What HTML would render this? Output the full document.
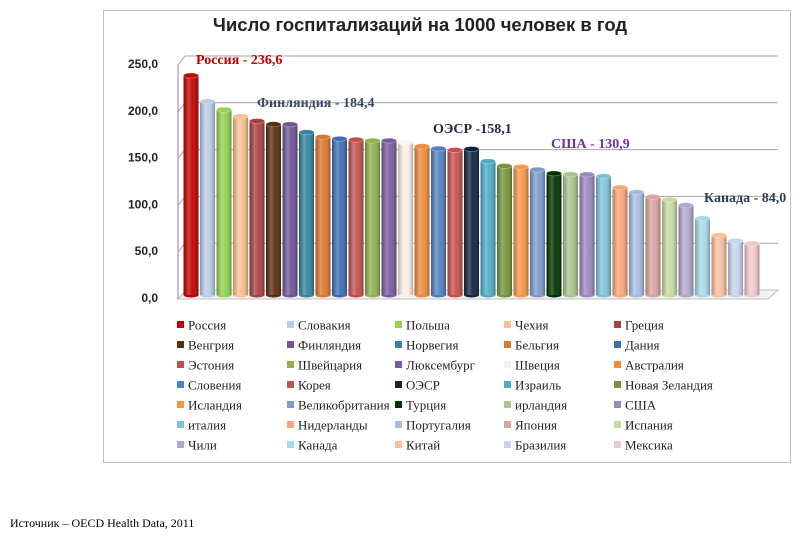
<!DOCTYPE html>
<html><head><meta charset="utf-8"><style>
body{margin:0;width:800px;height:542px;background:#fff;overflow:hidden;font-family:"Liberation Serif",serif}
</style></head><body>
<svg id="c" width="800" height="542" xmlns="http://www.w3.org/2000/svg">
<defs>
<linearGradient id="shade" x1="0" x2="1" y1="0" y2="0">
<stop offset="0" stop-color="#000" stop-opacity="0.25"/>
<stop offset="0.35" stop-color="#fff" stop-opacity="0.25"/>
<stop offset="0.6" stop-color="#fff" stop-opacity="0.05"/>
<stop offset="1" stop-color="#000" stop-opacity="0.3"/>
</linearGradient>
</defs>
<rect x="103.5" y="10.5" width="687" height="452" fill="#fff" stroke="#bfbfbf"/>
<text x="420" y="31" text-anchor="middle" font-family="Liberation Sans, sans-serif" font-weight="bold" font-size="18.5" fill="#222">Число госпитализаций на 1000 человек в год</text>
<g id="grid"></g><g id="bars"></g><g id="legend"></g>
<text x="196" y="64" font-weight="bold" font-size="14" fill="#c00000">Россия  - 236,6</text>
<text x="257" y="107" font-weight="bold" font-size="14" fill="#3b4a63">Финляндия  - 184,4</text>
<text x="433" y="133" font-weight="bold" font-size="14" fill="#1f2a44">ОЭСР  -158,1</text>
<text x="551" y="148" font-weight="bold" font-size="14" fill="#7030a0">США - 130,9</text>
<text x="704" y="202" font-weight="bold" font-size="14" fill="#2c3e5c">Канада - 84,0</text>
<text x="10" y="527" font-size="12" fill="#000">Источник – OECD Health Data, 2011</text>
</svg>
<script>
const categories=["Россия","Словакия","Польша","Чехия","Греция","Венгрия","Финляндия","Норвегия","Бельгия","Дания","Эстония","Швейцария","Люксембург","Швеция","Австралия","Словения","Корея","ОЭСР","Израиль","Новая Зеландия","Исландия","Великобритания","Турция","ирландия","США","италия","Нидерланды","Португалия","Япония","Испания","Чили","Канада","Китай","Бразилия","Мексика"];
const values=[236.6,209,200,193,188,184.6,184.4,176,171,169,168,167,167,165,161,158.5,157,158.1,145,140,139,136,132,131,130.9,129,117,112,107,104,98,84.0,66,60,57];
const colors=["#c00000","#b9cde5","#92d050","#fac090","#a8403e","#5a2d0c","#6f5596","#31859c","#d9782f","#3c6eb4","#c0504d","#8fb04a","#7a5a9e","#fdf0e6","#ef8a3a","#4f81bd","#c94f4c","#10243e","#4bacc6","#77933c","#f79646","#7c9bcc","#003300","#a9c58a","#9c87be","#7cc3d8","#fca678","#a6bde0","#dba3a2","#c6dca4","#b2a6cc","#a6dae8","#fbbfa0","#c6d4ec","#efc9c8"];
const ticks=[0,50,100,150,200,250];
const tickLabels=["0,0","50,0","100,0","150,0","200,0","250,0"];
const NS="http://www.w3.org/2000/svg";
const y0=297,pxPer=0.936,x0=191,step=16.5,bw=15;
const y=v=>y0-v*pxPer;
const x=i=>x0+i*step;
function mk(t,a,p){const e=document.createElementNS(NS,t);for(const k in a)e.setAttribute(k,a[k]);p.appendChild(e);return e;}
const grid=document.getElementById('grid'),bars=document.getElementById('bars'),leg=document.getElementById('legend');
const fl=mk('polygon',{points:"178,299 768,299 778,290 186,290",fill:"#f2f2f2",stroke:"#bfbfbf"},grid);


const ax=mk('line',{x1:178,y1:y(0)+2,x2:178,y2:y(250)+2,stroke:"#888"},grid);


ticks.forEach((t,i)=>{
  if(t>0){const g=mk('line',{x1:185,y1:y(t)-7,x2:778,y2:y(t)-7,stroke:"#a6a6a6","stroke-width":1},grid);
  
  
  mk('line',{x1:178,y1:y(t)+2,x2:185,y2:y(t)-7,stroke:"#a6a6a6"},grid);}
  const tl=mk('text',{x:158,y:y(t)+5,"text-anchor":"end","font-family":"Liberation Sans, sans-serif","font-weight":"bold","font-size":12,fill:"#222"},grid);
  tl.textContent=tickLabels[i];
  
  
});
values.forEach((v,i)=>{
  const cx=x(i),top=y(v),bot=y(0)-2;
  const g=mk('g',{},bars);
  
  
  mk('ellipse',{cx:cx,cy:bot,rx:bw/2,ry:2.5,fill:colors[i]},g);
  mk('rect',{x:cx-bw/2,y:top,width:bw,height:bot-top,fill:colors[i]},g);
  mk('rect',{x:cx-bw/2,y:top,width:bw,height:bot-top,fill:"url(#shade)"},g);
  mk('ellipse',{cx:cx,cy:top,rx:bw/2,ry:2.5,fill:colors[i],stroke:"#fff","stroke-opacity":0.4,"stroke-width":0.6},g);
});
const colX=[180,290,398,507,617];
categories.forEach((c,i)=>{
  const col=i%5,row=Math.floor(i/5);
  const lx=colX[col],ly=325+row*20;
  const g=mk('g',{},leg);
  
  
  mk('rect',{x:lx-3,y:ly-4,width:7,height:7,fill:colors[i]},g);
  const t=mk('text',{x:lx+8,y:ly+4.5,"font-size":13,fill:"#222"},g);
  t.textContent=c;
});
</script>
</body></html>
